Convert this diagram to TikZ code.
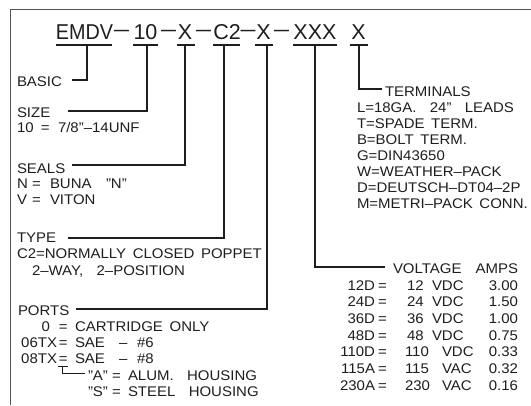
\documentclass[tikz,border=0pt]{standalone}
\usepackage{fontspec}
\setmainfont[FakeStretch=1.07,WordSpace=1.6]{Liberation Sans}
\newfontfamily\hdfamily{Liberation Sans}
\definecolor{ink}{HTML}{1E1E1E}
\definecolor{framegray}{HTML}{555555}
\newcommand\bodyfs{\fontsize{14}{16}\selectfont}
\newcommand\headfs{\hdfamily\fontsize{21.5}{24}\selectfont}
\newcommand\hdash{\raisebox{2.3pt}{\scalebox{1.25}[1]{–}}}
\begin{document}
\begin{tikzpicture}[x=1pt,y=-1pt,
  t/.style={inner sep=0pt,outer sep=0pt,anchor=base west,font=\bodyfs,text=ink},
  tr/.style={t,anchor=base east},
  tc/.style={t,anchor=base},
  hd/.style={inner sep=0pt,outer sep=0pt,anchor=base,font=\headfs,text=ink},
  ul/.style={line width=1.4pt,draw=ink},
  lead/.style={line width=1.2pt,draw=ink},
  frameline/.style={line width=1.8pt,draw=framegray}]
\useasboundingbox (0,0) rectangle (531,405);
\fill[white] (0,0) rectangle (531,405);
% frame
\draw[frameline] (531,9.5) -- (10.5,9.5) -- (10.5,405);
% header
\node[hd] (hEMDV) at (84.5,39) {\scalebox{0.92}[1]{EMDV}};
\node[hd] (hd1) at (121.5,39) {\hdash};
\node[hd] (h10) at (145.5,39) {10};
\node[hd] (hd2) at (168.5,39) {\hdash};
\node[hd] (hX1) at (185,39) {X};
\node[hd] (hd3) at (203.5,39) {\hdash};
\node[hd] (hC2) at (227,39) {C2};
\node[hd] (hd4) at (248,39) {\hdash};
\node[hd] (hX2) at (263.5,39) {X};
\node[hd] (hd5) at (281.5,39) {\hdash};
\node[hd] (hXXX) at (315,39) {XXX};
\node[hd] (hX3) at (358.5,39) {X};
% underlines
\draw[ul] (56,45) -- (112,45);
\draw[ul] (133,45) -- (158,45);
\draw[ul] (177,45) -- (195,45);
\draw[ul] (213,45) -- (240,45);
\draw[ul] (255,45) -- (273,45);
\draw[ul] (293,45) -- (337,45);
\draw[ul] (350,45) -- (368,45);
\coordinate (u1) at (87,45);
\coordinate (u2) at (147,45);
\coordinate (u3) at (185,45);
\coordinate (u4) at (224,45);
\coordinate (u5) at (267,45);
\coordinate (u6) at (315,45);
\coordinate (u7) at (359,45);
% leader ends
\coordinate (e1) at (72,80);
\coordinate (e2) at (68,111);
\coordinate (e3) at (72,165);
\coordinate (e4) at (68,238);
\coordinate (e5) at (76,309);
\coordinate (e6) at (385,267);
\coordinate (e7) at (382,89);
\draw[lead] (u1) |- (e1);
\draw[lead] (u2) |- (e2);
\draw[lead] (u3) |- (e3);
\draw[lead] (u4) |- (e4);
\draw[lead] (u5) |- (e5);
\draw[lead] (u6) |- (e6);
\draw[lead] (u7) |- (e7);
% left column
\node[t] (basic) at (17,86) {BASIC};
\node[t] (size) at (17,117) {SIZE};
\node[t] (s1a) at (17,132) {10};
\node[t] (s1b) at (41,132) {=};
\node[t] (s1c) at (58,132) {7/8"–14UNF};
\node[t] (seals) at (17,173) {SEALS};
\node[t] (n1) at (17,188) {N};
\node[t] (n2) at (32,188) {=};
\node[t] (n3) at (50,188) {BUNA};
\node[t] (n4) at (106,188) {"N"};
\node[t] (v1) at (17,204) {V};
\node[t] (v2) at (32,204) {=};
\node[t] (v3) at (50,204) {VITON};
\node[t] (type) at (17,242) {TYPE};
\node[t] (c2) at (17,258) {C2=NORMALLY CLOSED POPPET};
\node[t] (c2b) at (32,275) {2–WAY, \ 2–POSITION};
\node[t] (ports) at (18,315) {PORTS};
\node[tr] (p0) at (50,331) {0};
\node[t] (p0e) at (59,331) {=};
\node[t] (p0t) at (75,331) {CARTRIDGE ONLY};
\node[tr] (p6) at (57,347) {06TX};
\node[t] (p6e) at (59,347) {=};
\node[t] (p6t) at (75,347) {SAE};
\node[t] (p6d) at (119,347) {–};
\node[t] (p6n) at (137,347) {\#6};
\node[tr] (p8) at (57,363) {08TX};
\node[t] (p8e) at (59,363) {=};
\node[t] (p8t) at (75,363) {SAE};
\node[t] (p8d) at (119,363) {–};
\node[t] (p8n) at (137,363) {\#8};
\node[t] (ha1) at (88,380) {"A"};
\node[t] (ha2) at (112,380) {=};
\node[t] (ha3) at (128,380) {ALUM. \ HOUSING};
\node[t] (hs1) at (88,396) {"S"};
\node[t] (hs2) at (112,396) {=};
\node[t] (hs3) at (128,396) {STEEL \ HOUSING};
\coordinate (xa) at (58,366);
\coordinate (xb) at (68,366);
\coordinate (xc) at (62,366);
\coordinate (xd) at (85,373);
\draw[line width=0.9pt,draw=ink] (xa) -- (xb);
\draw[line width=0.9pt,draw=ink] (xc) |- (xd);
% terminals
\node[t] (term) at (385,96) {TERMINALS};
\node[t] (tL) at (357,112) {L=18GA. \ 24" \ LEADS};
\node[t] (tT) at (357,128) {T=SPADE TERM.};
\node[t] (tB) at (357,144) {B=BOLT TERM.};
\node[t] (tG) at (357,160) {G=DIN43650};
\node[t] (tW) at (357,176) {W=WEATHER–PACK};
\node[t] (tD) at (357,192) {D=DEUTSCH–DT04–2P};
\node[t] (tM) at (357,208) {M=METRI–PACK CONN.};
% voltage
\node[t] (volt) at (393,273) {VOLTAGE};
\node[tr] (amps) at (518,273) {AMPS};
\foreach \c/\n/\u/\a/\nx/\ux [count=\i from 0] in
  {12D/12/VDC/3.00/407/432, 24D/24/VDC/1.50/407/432, 36D/36/VDC/1.00/407/432,
   48D/48/VDC/0.75/407/432, 110D/110/VDC/0.33/405/442, 115A/115/VAC/0.32/405/442,
   230A/230/VAC/0.16/405/442}{
  \pgfmathsetmacro\yy{290+16.67*\i}
  \node[tr] (vc\i) at (375,\yy) {\c};
  \node[t] (ve\i) at (378,\yy) {=};
  \node[t] (vn\i) at (\nx,\yy) {\n};
  \node[t] (vu\i) at (\ux,\yy) {\u};
  \node[tr] (va\i) at (518,\yy) {\a};
}
\end{tikzpicture}
\end{document}
